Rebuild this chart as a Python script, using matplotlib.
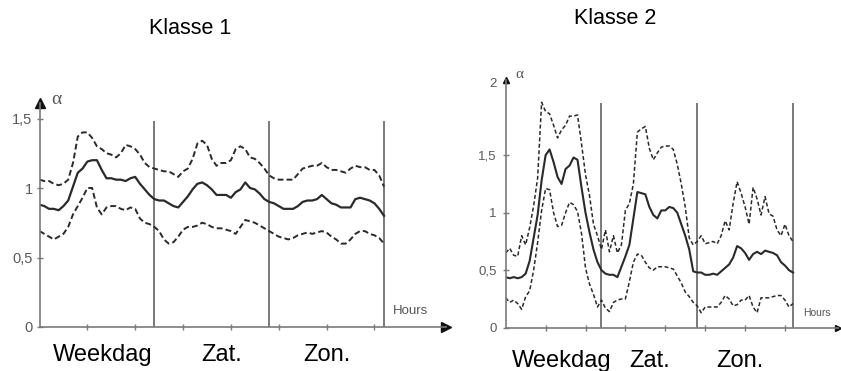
import matplotlib
matplotlib.use("Agg")
import matplotlib.pyplot as plt
import numpy as np

plt.rcParams['font.family'] = ['Liberation Sans', 'DejaVu Sans']

hours = np.arange(73)

# Klasse 1 (hourly values)
k1_mid = [0.88, 0.87, 0.85, 0.85, 0.84, 0.87, 0.91, 1.01, 1.11, 1.14, 1.19, 1.20,
          1.20, 1.13, 1.07, 1.07, 1.06, 1.06, 1.05, 1.07, 1.08, 1.03, 0.99, 0.95,
          0.92, 0.91, 0.91, 0.89, 0.87, 0.86, 0.90, 0.94, 0.99, 1.03, 1.04, 1.02,
          0.99, 0.95, 0.95, 0.95, 0.93, 0.97, 0.99, 1.04, 1.00, 0.99, 0.96, 0.92,
          0.90, 0.89, 0.87, 0.85, 0.85, 0.85, 0.87, 0.90, 0.91, 0.91, 0.92, 0.95,
          0.92, 0.89, 0.88, 0.86, 0.86, 0.86, 0.92, 0.93, 0.92, 0.91, 0.89, 0.85, 0.80]
k1_high = [1.06, 1.05, 1.05, 1.03, 1.02, 1.03, 1.06, 1.18, 1.37, 1.40, 1.40, 1.36,
           1.30, 1.28, 1.25, 1.24, 1.22, 1.25, 1.31, 1.30, 1.28, 1.24, 1.18, 1.15,
           1.14, 1.13, 1.12, 1.12, 1.10, 1.08, 1.12, 1.14, 1.21, 1.32, 1.34, 1.31,
           1.21, 1.16, 1.18, 1.18, 1.20, 1.28, 1.30, 1.28, 1.22, 1.21, 1.18, 1.14,
           1.09, 1.07, 1.06, 1.06, 1.06, 1.06, 1.10, 1.14, 1.15, 1.16, 1.16, 1.18,
           1.15, 1.13, 1.13, 1.12, 1.11, 1.14, 1.16, 1.15, 1.15, 1.13, 1.13, 1.09, 1.01]
k1_low = [0.69, 0.67, 0.65, 0.63, 0.65, 0.67, 0.72, 0.81, 0.87, 0.93, 1.00, 1.00,
          0.86, 0.81, 0.86, 0.87, 0.87, 0.85, 0.84, 0.86, 0.85, 0.78, 0.75, 0.74,
          0.72, 0.69, 0.63, 0.60, 0.61, 0.65, 0.70, 0.72, 0.72, 0.73, 0.75, 0.74,
          0.72, 0.71, 0.71, 0.70, 0.69, 0.67, 0.72, 0.77, 0.76, 0.75, 0.73, 0.71,
          0.69, 0.67, 0.65, 0.64, 0.63, 0.64, 0.66, 0.67, 0.68, 0.67, 0.68, 0.69,
          0.68, 0.65, 0.63, 0.60, 0.60, 0.63, 0.67, 0.69, 0.69, 0.67, 0.66, 0.64, 0.60]

# Klasse 2
k2_mid = [0.44, 0.43, 0.44, 0.43, 0.44, 0.47, 0.58, 0.78, 0.98, 1.28, 1.50, 1.55,
          1.44, 1.31, 1.25, 1.38, 1.41, 1.48, 1.46, 1.22, 1.00, 0.83, 0.68, 0.57,
          0.50, 0.47, 0.46, 0.46, 0.44, 0.53, 0.62, 0.72, 0.95, 1.18, 1.17, 1.16,
          1.05, 0.98, 0.95, 1.02, 1.02, 1.05, 1.04, 1.00, 0.90, 0.80, 0.68, 0.49,
          0.48, 0.48, 0.46, 0.46, 0.47, 0.46, 0.49, 0.52, 0.55, 0.61, 0.71, 0.69,
          0.65, 0.59, 0.64, 0.66, 0.64, 0.67, 0.66, 0.65, 0.63, 0.57, 0.54, 0.50, 0.48]
k2_high = [0.65, 0.69, 0.63, 0.62, 0.80, 0.72, 0.87, 1.06, 1.30, 1.96, 1.88, 1.86,
           1.76, 1.65, 1.72, 1.76, 1.84, 1.84, 1.85, 1.60, 1.33, 1.15, 0.90, 0.80,
           0.68, 0.85, 0.66, 0.80, 0.65, 0.72, 1.02, 1.08, 1.25, 1.70, 1.73, 1.75,
           1.56, 1.46, 1.52, 1.57, 1.58, 1.58, 1.55, 1.42, 1.25, 1.05, 0.78, 0.72,
           0.75, 0.80, 0.73, 0.74, 0.75, 0.73, 0.80, 0.93, 0.85, 1.08, 1.27, 1.17,
           1.05, 0.90, 1.22, 1.12, 0.98, 1.14, 0.99, 0.97, 0.85, 0.80, 0.90, 0.80, 0.75]
k2_low = [0.26, 0.22, 0.24, 0.21, 0.16, 0.27, 0.32, 0.50, 0.74, 1.02, 1.21, 1.20,
          1.00, 0.88, 0.89, 1.00, 1.09, 1.07, 1.01, 0.82, 0.52, 0.38, 0.29, 0.18,
          0.24, 0.17, 0.14, 0.22, 0.24, 0.25, 0.25, 0.40, 0.57, 0.64, 0.63, 0.57,
          0.52, 0.50, 0.53, 0.53, 0.53, 0.52, 0.51, 0.45, 0.39, 0.31, 0.27, 0.22,
          0.19, 0.13, 0.18, 0.18, 0.18, 0.18, 0.22, 0.28, 0.25, 0.19, 0.20, 0.24,
          0.24, 0.28, 0.18, 0.13, 0.26, 0.26, 0.26, 0.27, 0.28, 0.28, 0.24, 0.18, 0.21]

day_breaks = [24, 48, 72]
day_names = ['Weekdag', 'Zat.', 'Zon.']
W, H = 841, 371


def px_axes(x0, x1, ytop, ybot):
    return fig.add_axes([x0 / W, 1 - ybot / H, (x1 - x0) / W, (ybot - ytop) / H])


def setup(ax, xmax, ymax, yticks, ylabels, sep_top, fs, arrow_ms, pad):
    ax.set_xlim(0, xmax)
    ax.set_ylim(0, ymax)
    for s in ['top', 'right']:
        ax.spines[s].set_visible(False)
    for s in ['left', 'bottom']:
        ax.spines[s].set_color('#7a7a7a')
        ax.spines[s].set_linewidth(1.2)
    ax.set_xticks(np.arange(10, 80, 10))
    ax.set_xticklabels([])
    ax.set_yticks(yticks)
    ax.set_yticklabels(ylabels, fontsize=fs, color='#5a5a5a')
    ax.tick_params(direction='inout', length=5, width=1, color='#7a7a7a', pad=pad)
    ax.vlines(day_breaks, 0, sep_top, color='#7a7a7a', lw=1.4)
    ax.plot(0, 1, '^', color='#111111', ms=arrow_ms, transform=ax.transAxes, clip_on=False)
    ax.plot(1, 0, '>', color='#111111', ms=arrow_ms, transform=ax.transAxes, clip_on=False)
    ax.patch.set_alpha(0)


fig = plt.figure(figsize=(W / 100, H / 100), dpi=100)

# Klasse 1
ax1 = px_axes(39.5, 446, 103, 327)
setup(ax1, (446 - 39.5) / 4.785, (327 - 103) / 139, [0, 0.5, 1, 1.5],
      ['0', '0,5', '1', '1,5'], 1.484, 10.5, 7, 2.5)
ax1.plot(hours, k1_mid, color='#2a2a2a', lw=1.6)
ax1.plot(hours, k1_high, color='#2a2a2a', lw=1.4, dashes=(3, 1.6))
ax1.plot(hours, k1_low, color='#2a2a2a', lw=1.4, dashes=(3, 1.6))

# Klasse 2
ax2 = px_axes(505.7, 838, 80, 327.7)
setup(ax2, (838 - 505.7) / 3.99, (327.7 - 80) / 115, [0, 0.5, 1, 1.5, 2.13],
      ['0', '0,5', '1', '1,5', '2'], 1.957, 9.5, 5, 4)
ax2.plot(hours, k2_mid, color='#2a2a2a', lw=1.5)
ax2.plot(hours, k2_high, color='#2a2a2a', lw=1.1, dashes=(2.6, 1.6))
ax2.plot(hours, k2_low, color='#2a2a2a', lw=1.1, dashes=(2.6, 1.6))

# titles and labels
fig.text(190 / W, 1 - 28 / H, 'Klasse 1', fontsize=15.5, ha='center', va='center')
fig.text(615 / W, 1 - 18 / H, 'Klasse 2', fontsize=15.5, ha='center', va='center')

fig.text(56 / W, 1 - 99 / H, 'α', fontsize=14, family=['Liberation Serif', 'DejaVu Serif'],
         color='#555555', ha='center', va='center')
fig.text(519 / W, 1 - 75 / H, 'α', fontsize=11, family=['Liberation Serif', 'DejaVu Serif'],
         color='#555555', ha='center', va='center')
fig.text(411 / W, 1 - 311 / H, 'Hours', fontsize=9.5, color='#555555', ha='center', va='center')
fig.text(817 / W, 1 - 313 / H, 'Hours', fontsize=7.5, color='#555555', ha='center', va='center')

for name, xc in zip(day_names, [103, 222, 327]):
    fig.text(xc / W, 1 - 361 / H, name, fontsize=17, ha='center', va='baseline')
for name, xc in zip(day_names, [562, 650, 740]):
    fig.text(xc / W, 1 - 367 / H, name, fontsize=17, ha='center', va='baseline')

fig.savefig('out.png', dpi=100)
